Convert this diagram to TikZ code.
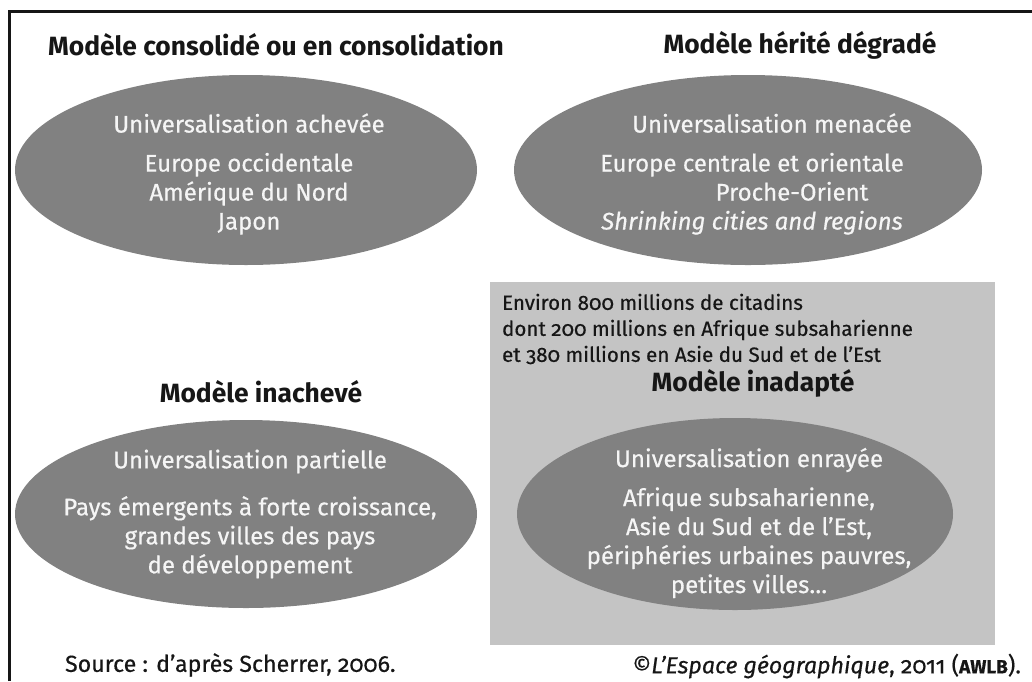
\documentclass[tikz,border=0pt]{standalone}
\usepackage{fontspec}
\setmainfont{Fira Sans}[Numbers=OldStyle]
\newfontfamily\moyen{Fira Sans}[Numbers=OldStyle, FakeBold=0.5]
\usetikzlibrary{shapes.geometric}

\definecolor{bullegris}{HTML}{818181}
\definecolor{fondgris}{HTML}{C4C4C4}
\definecolor{encre}{HTML}{161616}

\tikzset{
  titre/.style={font=\bfseries\fontsize{13.2}{16}\selectfont, text=encre},
  bulle/.style={ellipse, fill=bullegris, draw=none, inner sep=0pt},
  contenu/.style={align=center, text=white!96!black, font=\moyen\fontsize{12}{14.5}\selectfont},
  note/.style={align=left, text=encre, font=\moyen\fontsize{10.3}{13}\selectfont},
  pied/.style={text=encre, font=\moyen\fontsize{11.6}{14}\selectfont},
}

\begin{document}
\begin{tikzpicture}[x=0.5pt,y=-0.5pt]
    \useasboundingbox (0,0) rectangle (1032,681);

    % Cadre
    \draw[line width=1.5pt, encre] (9,681) -- (9,11) -- (1032,11);

    % Zone grise
    \fill[fondgris] (490,282) rectangle (995,645);

    % Titres
    \node[titre] (t1) at (276,45) {Modèle consolidé ou en consolidation};
    \node[titre] (t2) at (800,45) {Modèle hérité dégradé};
    \node[titre] (t3) at (261,392) {Modèle inachevé};
    \node[titre] (t4) at (753,383) {Modèle inadapté};

    % Bulles
    \node[bulle, minimum width=231pt, minimum height=95pt] (b1) at (246,170) {};
    \node[bulle, minimum width=234pt, minimum height=95pt] (b2) at (748,170) {};
    \node[bulle, minimum width=231pt, minimum height=94pt] (b3) at (246,514) {};
    \node[bulle, minimum width=218pt, minimum height=96pt] (b4) at (735,514) {};

    % Textes des bulles
    \node[contenu] (c1) at (249,174) {Universalisation achevée\\[5pt]
      Europe occidentale\\Amérique du Nord\\Japon};
    \node[contenu] (c2) at (752,174) {\hspace*{20pt}Universalisation menacée\\[5pt]
      Europe centrale et orientale\\\hspace*{40pt}Proche-Orient\\\textit{Shrinking cities and regions}};
    \node[contenu] (c3) at (250,514) {Universalisation partielle\\[9pt]
      Pays émergents à forte croissance,\\grandes villes des pays\\de développement};
    \node[contenu] (c4) at (749,523) {Universalisation enrayée\\[5pt]
      Afrique subsaharienne,\\Asie du Sud et de l’Est,\\périphéries urbaines pauvres,\\petites villes…};

    % Note de la zone grise
    \node[note, anchor=west] (n4) at (495,329) {Environ 800 millions de citadins\\
      dont 200 millions en Afrique subsaharienne\\et 380 millions en Asie du Sud et de l’Est};

    % Sources
    \node[pied, anchor=west] (src) at (58,665) {Source : d’après Scherrer, 2006.};
    \node[pied, anchor=east] (cop) at (1028,666) {©\textit{L’Espace géographique}, 2011
      ({\fontsize{9.5}{10}\selectfont\bfseries AWLB}).};
  \end{tikzpicture}
\end{document}
